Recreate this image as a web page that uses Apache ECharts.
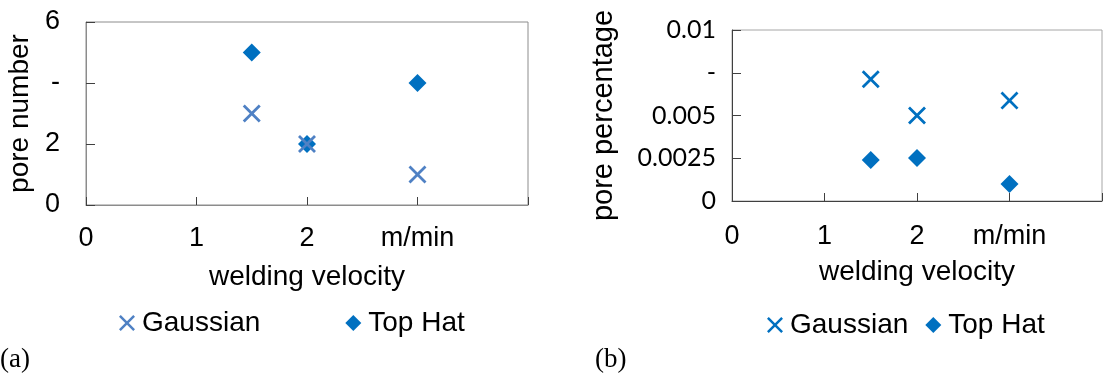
<!DOCTYPE html>
<html>
<head>
<meta charset="utf-8">
<script src="https://cdn.jsdelivr.net/npm/echarts@6/dist/echarts.min.js"></script>
<style>html,body{margin:0;padding:0;background:#fff;}#c{width:1105px;height:376px;}</style>
</head>
<body>
<div id="c"></div>
<script>
// ---- data ----
const velocity = [1.5, 2, 3];
const xTickValues = [0, 1, 2, 3];
const xTickLabels = ['0', '1', '2', 'm/min'];
const gaussianA = [3, 2, 1];
const topHatA = [5, 2, 4];
const yTicksA = [0, 2, 4, 6];
const yLabelsA = ['0', '2', '-', '6'];
const gaussianB = [0.00712, 0.005, 0.00587];
const topHatB = [0.0024, 0.00252, 0.001];
const yTicksB = [0, 0.0025, 0.005, 0.0075, 0.01];
const yLabelsB = ['0', '0.0025', '0.005', '-', '0.01'];

const crossPath = 'path://M0,11 L11,0 L50,39 L89,0 L100,11 L61,50 L100,89 L89,100 L50,61 L11,100 L0,89 L39,50 Z';
const steel = '#4f81c4';
const blue = '#0070c0';

function pick(ticks, labels, tol) {
  return function (v) {
    for (let i = 0; i < ticks.length; i++) if (Math.abs(v - ticks[i]) < tol) return labels[i];
    return '';
  };
}
const xFmt = pick(xTickValues, xTickLabels, 1e-6);
const pts = (xs, ys) => xs.map((x, i) => [x, ys[i]]);

const chart = echarts.init(document.getElementById('c'), null, {renderer: 'canvas'});
const arial = 'Liberation Sans';
chart.setOption({
  animation: false,
  backgroundColor: '#fff',
  textStyle: {fontFamily: arial, color: '#000'},
  grid: [
    {left: 86, top: 22, width: 442, height: 183, show: true, borderColor: '#8c8c8c', borderWidth: 1},
    {left: 732, top: 30, width: 380, height: 171, show: true, borderColor: '#a6a6a6', borderWidth: 1}
  ],
  xAxis: [
    {gridIndex: 0, type: 'value', min: 0, max: 4, interval: 1,
     name: 'welding velocity', nameLocation: 'middle', nameGap: 58,
     nameTextStyle: {fontSize: 28, fontFamily: arial, color: '#000'},
     axisLine: {lineStyle: {color: '#8c8c8c'}},
     axisTick: {inside: true, length: 8, lineStyle: {color: '#404040'}},
     axisLabel: {formatter: xFmt, fontSize: 27, margin: 20, color: '#000', fontFamily: arial},
     splitLine: {show: false}},
    {gridIndex: 1, type: 'value', min: 0, max: 4, interval: 1,
     name: 'welding velocity', nameLocation: 'middle', nameGap: 57,
     nameTextStyle: {fontSize: 28, fontFamily: arial, color: '#000'},
     axisLine: {lineStyle: {color: '#404040'}},
     axisTick: {inside: true, length: 8, lineStyle: {color: '#404040'}},
     axisLabel: {formatter: xFmt, fontSize: 27, margin: 22, color: '#000', fontFamily: arial},
     splitLine: {show: false}}
  ],
  yAxis: [
    {gridIndex: 0, type: 'value', min: 0, max: 6, interval: 2,
     name: 'pore number', nameLocation: 'middle', nameGap: 52, nameRotate: 90,
     nameTextStyle: {fontSize: 28, fontFamily: arial, color: '#000'},
     axisLine: {show: true, lineStyle: {color: '#8c8c8c'}},
     axisTick: {show: true, inside: true, length: 9, lineStyle: {color: '#404040'}},
     axisLabel: {formatter: pick(yTicksA, yLabelsA, 1e-6), fontSize: 27, margin: 26, color: '#000', fontFamily: arial},
     splitLine: {show: false}},
    {gridIndex: 1, type: 'value', min: 0, max: 0.01, interval: 0.0025,
     name: 'pore percentage', nameLocation: 'middle', nameGap: 114, nameRotate: 90,
     nameTextStyle: {fontSize: 29, fontFamily: arial, color: '#000'},
     axisLine: {show: true, lineStyle: {color: '#404040'}},
     axisTick: {show: true, inside: true, length: 9, lineStyle: {color: '#404040'}},
     axisLabel: {formatter: pick(yTicksB, yLabelsB, 1e-7), fontSize: 25, margin: 16, color: '#000', fontFamily: 'Lato'},
     splitLine: {show: false}}
  ],
  legend: [
    {left: 119, top: 309, padding: 0, itemWidth: 16, itemHeight: 16, itemGap: 85,
     textStyle: {fontSize: 28, fontFamily: arial, color: '#000', padding: [0, 0, 0, 2]},
     data: [
       {name: 'Gaussian', icon: crossPath, itemStyle: {color: steel, opacity: 1}},
       {name: 'Top Hat', icon: 'diamond', itemStyle: {color: blue, opacity: 1}}
     ], selectedMode: false},
    {left: 767, top: 311, padding: 0, itemWidth: 16, itemHeight: 16, itemGap: 17,
     textStyle: {fontSize: 28, fontFamily: arial, color: '#000', padding: [0, 0, 0, 2]},
     data: [
       {name: 'Gaussian', icon: crossPath, itemStyle: {color: blue, opacity: 1}},
       {name: 'Top Hat', icon: 'diamond', itemStyle: {color: blue, opacity: 1}}
     ], selectedMode: false}
  ],
  graphic: [
    {type: 'text', left: 0, top: 346, style: {text: '(a)', font: '27px "Liberation Serif"', fill: '#000'}},
    {type: 'text', left: 595, top: 346, style: {text: '(b)', font: '27px "Liberation Serif"', fill: '#000'}}
  ],
  series: [
    {name: 'Top Hat', type: 'scatter', xAxisIndex: 0, yAxisIndex: 0, z: 2,
     symbol: 'diamond', symbolSize: 18, itemStyle: {color: blue, opacity: 1}, data: pts(velocity, topHatA)},
    {name: 'Gaussian', type: 'scatter', xAxisIndex: 0, yAxisIndex: 0, z: 3,
     symbol: crossPath, symbolSize: 18, itemStyle: {color: steel, opacity: 1}, data: pts(velocity, gaussianA)},
    {name: 'Gaussian', type: 'scatter', xAxisIndex: 1, yAxisIndex: 1, z: 3,
     symbol: crossPath, symbolSize: 18, itemStyle: {color: blue, opacity: 1}, data: pts(velocity, gaussianB)},
    {name: 'Top Hat', type: 'scatter', xAxisIndex: 1, yAxisIndex: 1, z: 2,
     symbol: 'diamond', symbolSize: 18, itemStyle: {color: blue, opacity: 1}, data: pts(velocity, topHatB)}
  ]
});
</script>
</body>
</html>
